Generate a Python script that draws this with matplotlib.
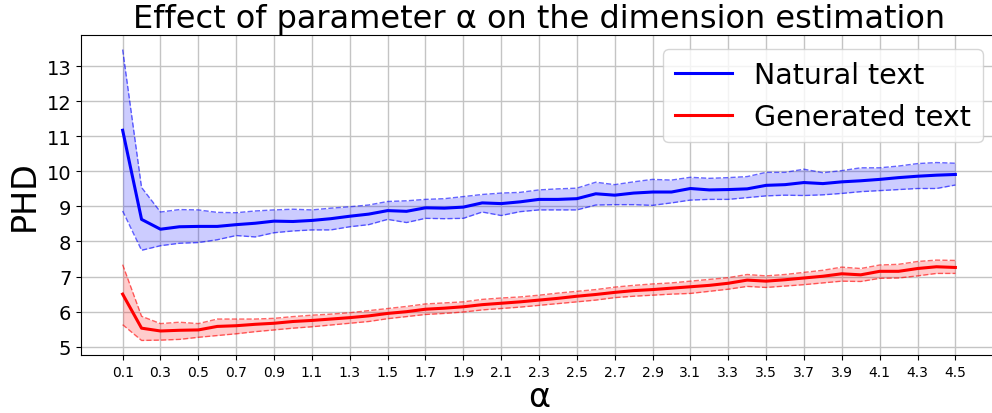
import numpy as np
import matplotlib
matplotlib.use("Agg")
import matplotlib.pyplot as plt

alpha = [round(0.1 * i, 1) for i in range(1, 46)]

natural_mean = [11.17, 8.63, 8.35, 8.42, 8.43, 8.43, 8.48, 8.52, 8.58, 8.57,
                8.60, 8.65, 8.72, 8.78, 8.88, 8.86, 8.96, 8.95, 8.98, 9.10,
                9.08, 9.13, 9.20, 9.20, 9.22, 9.36, 9.32, 9.38, 9.41, 9.41,
                9.51, 9.47, 9.48, 9.50, 9.60, 9.62, 9.68, 9.65, 9.70, 9.73,
                9.77, 9.82, 9.86, 9.89, 9.91]
natural_upper = [13.47, 9.54, 8.84, 8.91, 8.90, 8.83, 8.82, 8.87, 8.90, 8.92,
                 8.90, 8.95, 8.99, 9.04, 9.14, 9.16, 9.20, 9.22, 9.28, 9.34,
                 9.38, 9.40, 9.47, 9.50, 9.52, 9.69, 9.62, 9.70, 9.77, 9.75,
                 9.83, 9.80, 9.82, 9.85, 9.97, 9.97, 10.06, 9.96, 10.02, 10.10,
                 10.10, 10.15, 10.22, 10.25, 10.23]
natural_lower = [8.87, 7.75, 7.88, 7.95, 7.97, 8.05, 8.17, 8.13, 8.25, 8.30,
                 8.33, 8.33, 8.42, 8.48, 8.63, 8.54, 8.66, 8.65, 8.66, 8.84,
                 8.74, 8.85, 8.90, 8.90, 8.90, 9.04, 9.05, 9.05, 9.03, 9.10,
                 9.18, 9.20, 9.20, 9.25, 9.30, 9.32, 9.31, 9.33, 9.37, 9.42,
                 9.45, 9.48, 9.51, 9.51, 9.61]

generated_mean = [6.50, 5.53, 5.45, 5.47, 5.48, 5.58, 5.60, 5.64, 5.67, 5.72,
                  5.75, 5.79, 5.83, 5.88, 5.95, 6.00, 6.07, 6.10, 6.14, 6.20,
                  6.24, 6.28, 6.33, 6.38, 6.44, 6.49, 6.55, 6.60, 6.63, 6.67,
                  6.71, 6.75, 6.81, 6.90, 6.87, 6.91, 6.96, 7.01, 7.08, 7.05,
                  7.15, 7.15, 7.23, 7.28, 7.26]
generated_upper = [7.34, 5.87, 5.66, 5.70, 5.66, 5.79, 5.79, 5.79, 5.81, 5.86,
                   5.90, 5.93, 5.97, 6.03, 6.09, 6.15, 6.22, 6.25, 6.28, 6.35,
                   6.39, 6.42, 6.47, 6.53, 6.58, 6.63, 6.70, 6.75, 6.79, 6.82,
                   6.87, 6.92, 6.97, 7.06, 7.02, 7.06, 7.12, 7.18, 7.27, 7.23,
                   7.33, 7.35, 7.43, 7.47, 7.46]
generated_lower = [5.63, 5.18, 5.19, 5.21, 5.27, 5.32, 5.37, 5.43, 5.48, 5.53,
                   5.57, 5.62, 5.67, 5.72, 5.80, 5.86, 5.92, 5.95, 5.99, 6.05,
                   6.09, 6.13, 6.18, 6.23, 6.28, 6.33, 6.40, 6.44, 6.47, 6.50,
                   6.52, 6.58, 6.64, 6.72, 6.69, 6.73, 6.77, 6.82, 6.87, 6.86,
                   6.95, 6.96, 7.02, 7.09, 7.09]

xtick_labels = [f"{v:.1f}" for v in alpha[::2]]

fig = plt.figure(figsize=(9.92, 4.14), dpi=100)
ax = fig.add_axes([81 / 992, 58 / 414, (997 - 81) / 992, (356 - 36) / 414])

ax.plot(alpha, natural_mean, color="blue", lw=2.2, label="Natural text")
ax.fill_between(alpha, natural_lower, natural_upper, color="blue", alpha=0.2, lw=0)
ax.plot(alpha, natural_upper, color="blue", lw=1, ls="--", alpha=0.6)
ax.plot(alpha, natural_lower, color="blue", lw=1, ls="--", alpha=0.6)

ax.plot(alpha, generated_mean, color="red", lw=2.2, label="Generated text")
ax.fill_between(alpha, generated_lower, generated_upper, color="red", alpha=0.2, lw=0)
ax.plot(alpha, generated_upper, color="red", lw=1, ls="--", alpha=0.6)
ax.plot(alpha, generated_lower, color="red", lw=1, ls="--", alpha=0.6)

ax.set_xticks(alpha[::2])
ax.set_xticklabels(xtick_labels, fontsize=10)
ax.set_yticks(range(5, 14))
ax.tick_params(axis="y", labelsize=14)
ax.grid(True, color="#c4c4c4", lw=1)
ax.set_axisbelow(True)

ax.set_title("Effect of parameter α on the dimension estimation", fontsize=23)
ax.set_ylabel("PHD", fontsize=24)
ax.set_xlabel("α", fontsize=24, labelpad=1)
ax.legend(loc="upper right", fontsize=20.5)

fig.savefig("out.png", dpi=100)
